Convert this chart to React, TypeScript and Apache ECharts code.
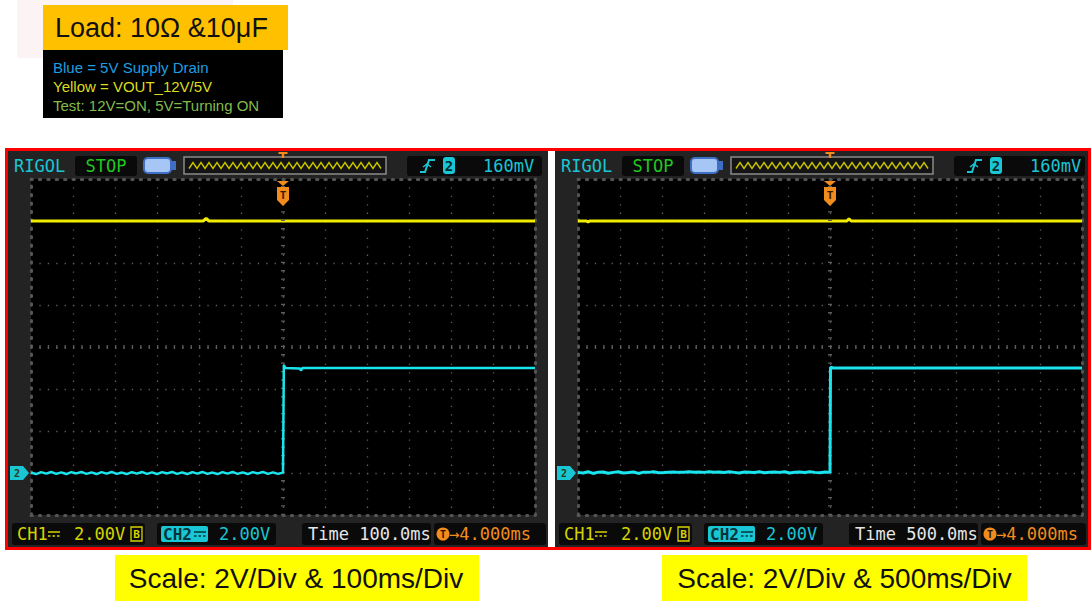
import React, { useEffect, useRef } from "react";
import * as echarts from "echarts";

// ---------- data ----------
const voltsPerDiv = 2;
const ch1OffsetV = -6; // CH1 (yellow) ground marker 3 div below centre
const ch2OffsetV = -6; // CH2 (blue) ground marker 3 div below centre

const leftTimeRangeMs = [-600, 600];
const leftDivMs = 100;
const rightTimeRangeMs = [-3000, 3000];
const rightDivMs = 500;

// Left capture, 100 ms/div
const leftLowSampleMs = 12;
const leftBlueLowRipple = [
  0.02, -0.05, 0.04, -0.03, 0.05, -0.04, 0.03, -0.05, 0.04, -0.02,
  0.05, -0.04, 0.03, -0.05, 0.04, -0.03, 0.05, -0.04, 0.02, -0.05,
  0.04, -0.03, 0.05, -0.04, 0.03, -0.05, 0.04, -0.02, 0.05, -0.04,
  0.03, -0.05, 0.04, -0.03, 0.05, -0.04, 0.02, -0.05, 0.04, -0.03,
  0.05, -0.04, 0.03, -0.05, 0.04, -0.02, 0.05, -0.04, 0.03, -0.04, 0.02,
];
const leftBlueHigh = [
  [2, 5.14], [6, 5.0], [40, 4.98], [43, 4.88], [46, 5.0], [600, 5.0],
];
const leftYellow = [
  [-600, 12], [-190, 12], [-183, 12.12], [-176, 12], [600, 12],
];

// Right capture, 500 ms/div
const rightLowSampleMs = 60;
const rightBlueLowRipple = [
  0.03, 0.0, 0.06, -0.02, 0.04, 0.05, -0.01, 0.03, 0.06, 0.0,
  0.02, 0.05, -0.02, 0.04, 0.03, 0.06, 0.01, 0.02, 0.04, 0.05,
  0.03, 0.04, 0.06, 0.04, 0.05, 0.03, 0.06, 0.04, 0.05, 0.02,
  0.06, 0.03, 0.0, 0.05, 0.04, 0.02, 0.06, 0.01, 0.04, 0.05,
  0.03, 0.06, 0.0, 0.04, 0.05, 0.02, 0.06, 0.03, 0.01, 0.05, 0.03,
];
const rightBlueHigh = [[6, 5.04], [40, 5.0], [3000, 5.0]];
const rightYellow = [
  [-3000, 12], [-2900, 12], [-2880, 11.95], [-2860, 12], [200, 12],
  [226, 12.1], [252, 12], [3000, 12],
];

const scopeTitle = "RIGOL";
const runState = "STOP";
const triggerLevel = "160mV";
const ch1Scale = "2.00V";
const ch2Scale = "2.00V";
const leftTimebase = "Time 100.0ms";
const rightTimebase = "Time 500.0ms";
const triggerDelay = "\u21924.000ms";
const loadTitle = "Load: 10\u03A9 &10\u03BCF";
const legendLines = ["Blue = 5V Supply Drain", "Yellow = VOUT_12V/5V", "Test: 12V=ON, 5V=Turning ON"];
const leftCaption = "Scale: 2V/Div & 100ms/Div";
const rightCaption = "Scale: 2V/Div & 500ms/Div";

// ---------- styling ----------
const C = {
  scopeBg: "#232323",
  box: "#0a0a0a",
  cyan: "#19c6d4",
  trace2: "#1ae4ee",
  trace1: "#f2ec00",
  green: "#1fc81f",
  yellow: "#d6d400",
  orange: "#f28c1c",
  white: "#e6e6e6",
  dots: "#5e5e5e",
  edge: "#555555",
};
const MONO = '"DejaVu Sans Mono", monospace';
const SANS = '"Liberation Sans", Arial, sans-serif';

const GRID_TOP = 179;
const GRID_H = 336;
const GRID_W = 504;
const Y_MIN = -4 * voltsPerDiv;
const Y_MAX = 4 * voltsPerDiv;

function txt(x: number, y: number, s: string, fill: string, size: number, o: any = {}) {
  const align = o.align || "left";
  return {
    type: "text",
    x,
    y,
    z: o.z ?? 20,
    silent: true,
    style: {
      text: s,
      fill,
      font: `${o.weight || "normal"} ${size}px ${o.family || MONO}`,
      textAlign: align,
      align,
      textVerticalAlign: "middle",
      verticalAlign: "middle",
    },
  };
}
function rect(x: number, y: number, w: number, h: number, fill: string, z = 1, r = 0, extra: any = {}) {
  return { type: "rect", z, silent: true, shape: { x, y, width: w, height: h, r }, style: { fill, ...extra } };
}
function poly(points: number[][], stroke: string, lw: number, z = 5, extra: any = {}) {
  return { type: "polyline", z, silent: true, shape: { points }, style: { stroke, lineWidth: lw, fill: null, ...extra } };
}
function dcSymbol(x: number, y: number, color: string, z = 21) {
  return [
    { type: "line", z, silent: true, shape: { x1: x, y1: y - 2, x2: x + 12, y2: y - 2 }, style: { stroke: color, lineWidth: 1.5 } },
    { type: "line", z, silent: true, shape: { x1: x, y1: y + 2, x2: x + 12, y2: y + 2 }, style: { stroke: color, lineWidth: 1.5, lineDash: [2.5, 2] } },
  ];
}

function scopeGraphics(ox: number, rightEdge: number, timeText: string) {
  const els: any[] = [];
  const gx = ox + 23;
  const cx = gx + GRID_W / 2;
  els.push(rect(ox, 151, rightEdge - ox, 396, C.scopeBg, -5));
  // top bar
  els.push(txt(ox + 6, 166, scopeTitle, C.cyan, 17));
  els.push(rect(ox + 67, 156, 62, 20, C.box, 1, 3));
  els.push(txt(ox + 98, 166, runState, C.green, 17, { align: "center" }));
  els.push({ type: "rect", z: 2, silent: true, shape: { x: ox + 136, y: 158, width: 27, height: 15, r: 4 }, style: { fill: "#a6c6f6", stroke: "#3f6fc4", lineWidth: 2 } });
  els.push(rect(ox + 163, 161, 5, 9, "#3f6fc4", 2));
  els.push({ type: "rect", z: 2, silent: true, shape: { x: ox + 176, y: 157, width: 202, height: 17 }, style: { fill: "#141414", stroke: "#8a8a8a", lineWidth: 1.5 } });
  const zz: number[][] = [];
  for (let k = 0; k <= 48; k++) zz.push([ox + 181 + k * 4, k % 2 ? 162.5 : 168.5]);
  els.push(poly(zz, "#c8c400", 1.4, 3));
  els.push(rect(cx - 4.5, 152, 9, 2, C.orange, 4));
  els.push(rect(cx - 1.2, 152, 2.4, 6, C.orange, 4));
  const rbx = ox + 399;
  els.push(rect(rbx, 156, Math.min(135, rightEdge - 3 - rbx), 20, C.box, 1, 3));
  els.push(poly([[ox + 412, 172], [ox + 417, 172], [ox + 421, 160], [ox + 427, 160]], C.cyan, 2, 21));
  els.push(poly([[ox + 415, 167], [ox + 419, 164], [ox + 423, 167]], C.cyan, 1.5, 21));
  els.push(rect(ox + 435, 157, 12, 17, C.cyan, 3, 3));
  els.push(txt(ox + 441, 166, "2", "#062a2e", 14, { align: "center", weight: "bold" }));
  els.push(txt(ox + 475, 166, triggerLevel, C.cyan, 17));
  // bottom bar
  const by = 534;
  els.push(rect(ox + 4, 523, 133, 22, C.box, 1, 3));
  els.push(txt(ox + 9, by, "CH1", C.yellow, 17));
  els.push(...dcSymbol(ox + 40, by, C.yellow));
  els.push(txt(ox + 66, by, ch1Scale, C.yellow, 17));
  els.push({ type: "rect", z: 20, silent: true, shape: { x: ox + 123, y: 527, width: 11, height: 14 }, style: { fill: null, stroke: C.yellow, lineWidth: 1.3 } });
  els.push(txt(ox + 128.5, by, "B", C.yellow, 11, { align: "center", weight: "bold" }));
  els.push(rect(ox + 149, 523, 119, 22, C.box, 1, 3));
  els.push(rect(ox + 153, 526, 47, 16, C.cyan, 3, 2));
  els.push(txt(ox + 155, by, "CH2", "#07343a", 16, { weight: "bold" }));
  els.push(...dcSymbol(ox + 186, by, "#07343a"));
  els.push(txt(ox + 211, by, ch2Scale, C.cyan, 17));
  els.push(rect(ox + 294, 523, 129, 22, C.box, 1, 3));
  els.push(txt(ox + 300, by, timeText, C.white, 17));
  const b4 = ox + 426;
  els.push(rect(b4, 523, Math.min(112, rightEdge - 2 - b4), 22, C.box, 1, 3));
  els.push({ type: "circle", z: 20, silent: true, shape: { cx: ox + 435, cy: by, r: 6.5 }, style: { fill: C.orange } });
  els.push(txt(ox + 435, by, "T", "#2a1400", 10, { align: "center", weight: "bold" }));
  els.push(txt(ox + 441, by, triggerDelay, C.orange, 17));
  // trigger position marker
  els.push({ type: "polygon", z: 40, silent: true, shape: { points: [[cx - 6, 181], [cx + 6, 181], [cx, 186]] }, style: { fill: C.orange } });
  els.push({ type: "polygon", z: 40, silent: true, shape: { points: [[cx - 6, 187], [cx + 6, 187], [cx + 6, 200], [cx, 206], [cx - 6, 200]] }, style: { fill: C.orange } });
  els.push(txt(cx, 195, "T", "#3a1a00", 11, { align: "center", weight: "bold", z: 41 }));
  // channel ground marker
  const my = GRID_TOP + ((Y_MAX - ch2OffsetV) / (Y_MAX - Y_MIN)) * GRID_H;
  els.push({ type: "polygon", z: 40, silent: true, shape: { points: [[ox + 2, my - 7], [ox + 15, my - 7], [ox + 21, my], [ox + 15, my + 7], [ox + 2, my + 7]] }, style: { fill: C.cyan } });
  els.push(txt(ox + 9, my, "2", "#2a3a10", 10, { align: "center", weight: "bold", z: 41 }));
  return els;
}

function buildOption() {
  const dots = { color: C.dots, width: 1.3, type: [1.3, 7.1] };
  const edge = { color: C.edge, width: 3, type: [1.3, 7.1] };
  const grids = [
    { left: 31, top: GRID_TOP, width: GRID_W, height: GRID_H, show: true, backgroundColor: "#000", borderWidth: 0, z: 0 },
    { left: 578, top: GRID_TOP, width: GRID_W, height: GRID_H, show: true, backgroundColor: "#000", borderWidth: 0, z: 0 },
  ];
  const ranges = [leftTimeRangeMs, rightTimeRangeMs];
  const divs = [leftDivMs, rightDivMs];
  const xAxis: any[] = [];
  const yAxis: any[] = [];
  [0, 1].forEach((g) => {
    const base = { gridIndex: g, type: "value", axisLabel: { show: false }, axisTick: { show: false } };
    xAxis.push({ ...base, min: ranges[g][0], max: ranges[g][1], interval: divs[g], axisLine: { show: true, onZero: false, lineStyle: edge }, splitLine: { show: true, lineStyle: dots } });
    xAxis.push({ ...base, position: "top", min: ranges[g][0], max: ranges[g][1], interval: divs[g], axisLine: { show: true, onZero: false, lineStyle: edge }, splitLine: { show: false } });
    yAxis.push({ ...base, min: Y_MIN, max: Y_MAX, interval: voltsPerDiv, axisLine: { show: true, onZero: false, lineStyle: edge }, splitLine: { show: true, lineStyle: dots } });
    yAxis.push({ ...base, position: "right", min: Y_MIN, max: Y_MAX, interval: voltsPerDiv, axisLine: { show: true, onZero: false, lineStyle: edge }, splitLine: { show: false } });
  });

  const sampled = (start: number, step: number, vals: number[]) => vals.map((v, i) => [start + i * step, v]);
  const shift = (pts: number[][], off: number) => pts.map(([t, v]) => [t, v + off]);
  const leftBlue = shift([...sampled(leftTimeRangeMs[0], leftLowSampleMs, leftBlueLowRipple), ...leftBlueHigh], ch2OffsetV);
  const rightBlue = shift([...sampled(rightTimeRangeMs[0], rightLowSampleMs, rightBlueLowRipple), ...rightBlueHigh], ch2OffsetV);
  const lY = shift(leftYellow, ch1OffsetV);
  const rY = shift(rightYellow, ch1OffsetV);

  const line = (g: number, data: number[][], color: string, width: number, z: number) => ({
    type: "line",
    xAxisIndex: g * 2,
    yAxisIndex: g * 2,
    data,
    showSymbol: false,
    symbol: "none",
    silent: true,
    z,
    lineStyle: { color, width },
    emphasis: { disabled: true },
  });
  const cross = (g: number) => ({
    type: "line",
    xAxisIndex: g * 2,
    yAxisIndex: g * 2,
    data: [[0, 0]],
    symbol: "none",
    silent: true,
    z: 1,
    lineStyle: { opacity: 0 },
    markLine: {
      silent: true,
      symbol: ["none", "none"],
      label: { show: false },
      lineStyle: { color: C.dots, width: 4, type: [1.3, 7.1] },
      emphasis: { disabled: true },
      data: [{ xAxis: 0 }, { yAxis: 0 }],
    },
  });

  const graphic: any[] = [
    rect(17, 0, 216, 58, "#fcf4f4", -6),
    rect(43, 5, 245, 45, "#ffc000", 2),
    txt(55, 28, loadTitle, "#111", 27, { family: SANS }),
    rect(43, 50, 240, 68, "#000", 2),
    txt(53, 67, legendLines[0], "#1f9ee0", 15, { family: SANS }),
    txt(53, 86, legendLines[1], "#dcdc1e", 15, { family: SANS }),
    txt(53, 105, legendLines[2], "#82bb4a", 15, { family: SANS }),
    ...scopeGraphics(8, 548, leftTimebase),
    ...scopeGraphics(555, 1088, rightTimebase),
    { type: "rect", z: 60, silent: true, shape: { x: 6.5, y: 149.5, width: 1083, height: 399 }, style: { fill: null, stroke: "#ff0000", lineWidth: 3 } },
    rect(115, 555, 364, 46, "#ffff00", 2),
    txt(296, 578, leftCaption, "#111", 28, { family: SANS, align: "center" }),
    rect(662, 555, 365, 46, "#ffff00", 2),
    txt(844.5, 578, rightCaption, "#111", 28, { family: SANS, align: "center" }),
  ];

  return {
    animation: false,
    backgroundColor: "#ffffff",
    grid: grids,
    xAxis,
    yAxis,
    graphic,
    series: [
      cross(0),
      cross(1),
      line(0, lY, C.trace1, 3, 4),
      line(0, leftBlue, C.trace2, 2.5, 5),
      line(1, rY, C.trace1, 3, 4),
      line(1, rightBlue, C.trace2, 3, 5),
    ],
  };
}

export default function App() {
  const ref = useRef<HTMLDivElement>(null);
  useEffect(() => {
    if (!ref.current) return;
    const chart = echarts.init(ref.current, undefined, { renderer: "svg" });
    chart.setOption(buildOption() as any);
    return () => chart.dispose();
  }, []);
  return <div ref={ref} style={{ position: "absolute", left: 0, top: 0, width: 1091, height: 601 }} />;
}
